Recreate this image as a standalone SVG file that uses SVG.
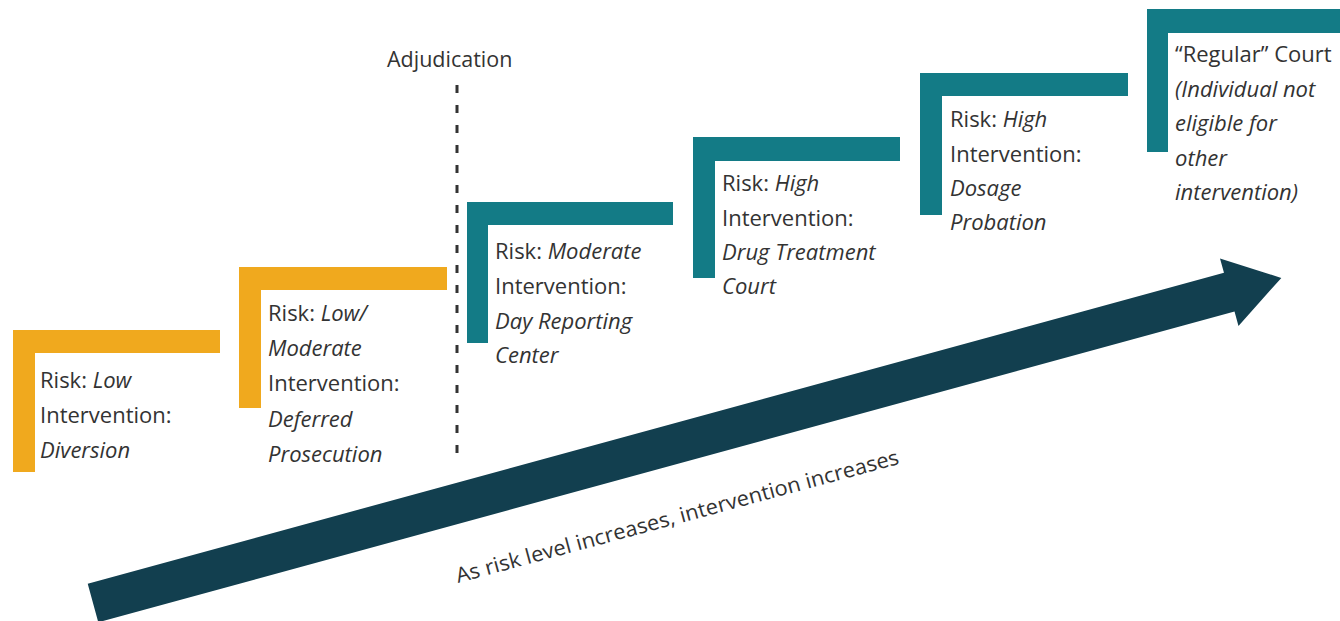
<svg xmlns="http://www.w3.org/2000/svg" width="1340" height="621" viewBox="0 0 1340 621">
<style>
.t{font-family:"Open Sans","Noto Sans","Liberation Sans",sans-serif;font-size:22px;fill:#333333}
.i{font-style:italic}
.org{fill:#f0a91e}
.teal{fill:#137b86}
</style>
<rect width="1340" height="621" fill="#ffffff"/>
<g id="arrow">
<polygon transform="translate(93,603) rotate(-15.3)" points="0,-20 1178,-20 1178,-35 1232,0 1178,35 1178,20 0,20" fill="#123f4f"/>
<text class="t" style="font-size:21px" transform="translate(458,583) rotate(-15.1)" textLength="458" lengthAdjust="spacingAndGlyphs">As risk level increases, intervention increases</text>
</g>
<g id="adjudication">
<line x1="457" y1="85" x2="457" y2="460" stroke="#333" stroke-width="3" stroke-dasharray="8 12"/>
<text class="t" style="font-size:21.5px" x="387" y="67">Adjudication</text>
</g>
<g id="step1">
<rect class="org" x="13" y="330" width="207" height="23"/>
<rect class="org" x="13" y="330" width="22" height="142"/>
<text class="t" x="40" y="388">Risk: <tspan class="i">Low</tspan></text>
<text class="t" x="40" y="423">Intervention:</text>
<text class="t i" x="40" y="458">Diversion</text>
</g>
<g id="step2">
<rect class="org" x="239" y="267" width="208" height="23"/>
<rect class="org" x="239" y="267" width="22" height="141"/>
<text class="t" x="268" y="321">Risk: <tspan class="i">Low/</tspan></text>
<text class="t i" x="268" y="356">Moderate</text>
<text class="t" x="268" y="391">Intervention:</text>
<text class="t i" x="268" y="427">Deferred</text>
<text class="t i" x="268" y="462">Prosecution</text>
</g>
<g id="step3">
<rect class="teal" x="467" y="202" width="206" height="23"/>
<rect class="teal" x="467" y="202" width="21" height="141"/>
<text class="t" x="495" y="259">Risk: <tspan class="i">Moderate</tspan></text>
<text class="t" x="495" y="294">Intervention:</text>
<text class="t i" x="495" y="329">Day Reporting</text>
<text class="t i" x="495" y="363">Center</text>
</g>
<g id="step4">
<rect class="teal" x="693" y="137" width="207" height="24"/>
<rect class="teal" x="693" y="137" width="22" height="141"/>
<text class="t" x="722" y="191">Risk: <tspan class="i">High</tspan></text>
<text class="t" x="722" y="226">Intervention:</text>
<text class="t i" x="722" y="260">Drug Treatment</text>
<text class="t i" x="722" y="294">Court</text>
</g>
<g id="step5">
<rect class="teal" x="920" y="73" width="208" height="23"/>
<rect class="teal" x="920" y="73" width="22" height="142"/>
<text class="t" x="950" y="127">Risk: <tspan class="i">High</tspan></text>
<text class="t" x="950" y="162">Intervention:</text>
<text class="t i" x="950" y="196">Dosage</text>
<text class="t i" x="950" y="230">Probation</text>
</g>
<g id="step6">
<rect class="teal" x="1147" y="9" width="193" height="24"/>
<rect class="teal" x="1147" y="9" width="21" height="143"/>
<text class="t" x="1175" y="62">“Regular” Court</text>
<text class="t i" x="1175" y="97">(Individual not</text>
<text class="t i" x="1175" y="131">eligible for</text>
<text class="t i" x="1175" y="166">other</text>
<text class="t i" x="1175" y="200">intervention)</text>
</g>
</svg>
